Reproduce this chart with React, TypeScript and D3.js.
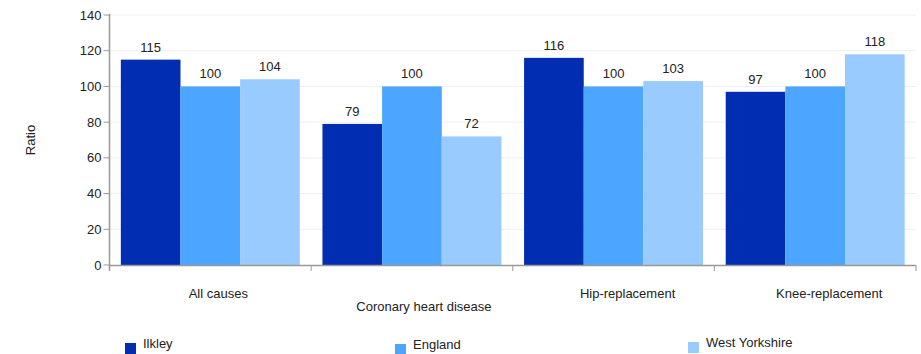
import React from "react";
import * as d3 from "d3";

const categories = ["All causes", "Coronary heart disease", "Hip-replacement", "Knee-replacement"];
const seriesNames = ["Ilkley", "England", "West Yorkshire"];
const ilkley = [115, 79, 116, 97];
const england = [100, 100, 100, 100];
const westYorkshire = [104, 72, 103, 118];
const yTicks = [0, 20, 40, 60, 80, 100, 120, 140];
const colors = ["#002db2", "#4ca6ff", "#99cbff"];

const W = 921, H = 354;
const left = 109.5, right = 916, top = 15, bottom = 265;

export default function App() {
  const series = [ilkley, england, westYorkshire];
  const x = d3.scaleBand().domain(categories).range([left, right]).paddingInner(0).paddingOuter(0);
  const x1 = d3.scaleBand().domain(seriesNames).range([0, x.bandwidth()]).paddingOuter(0.19).paddingInner(0);
  const y = d3.scaleLinear().domain([0, 140]).range([bottom, top]);
  const font = "Liberation Sans, Arial, sans-serif";
  const labelDy = [0, 13, 0, 0];
  const labelDx = [8, 12, 14, 14];
  const legendX = [125, 395, 688];
  const legendY = [343, 344, 342];
  return (
    <svg width={W} height={H} style={{ position: "absolute", left: 0, top: 0 }} fontFamily={font}>
      {yTicks.map((t) => (
        <g key={t}>
          {t > 0 && <line x1={left} x2={right} y1={y(t)} y2={y(t)} stroke="#eeeeee" strokeWidth={1} />}
          <line x1={left - 6} x2={left} y1={y(t)} y2={y(t)} stroke="#999" strokeWidth={1} />
          <text x={left - 8} y={y(t)} dy="0.35em" textAnchor="end" fontSize={13} fill="#222">{t}</text>
        </g>
      ))}
      {categories.map((c, i) => (
        <g key={c}>
          {series.map((s, j) => (
            <g key={j}>
              <rect x={(x(c) as number) + (x1(seriesNames[j]) as number)} y={y(s[i])} width={x1.bandwidth()} height={bottom - y(s[i])} fill={colors[j]} />
              <text x={(x(c) as number) + (x1(seriesNames[j]) as number) + x1.bandwidth() / 2} y={y(s[i]) - 8} textAnchor="middle" fontSize={13} fill="#222">{s[i]}</text>
            </g>
          ))}
          <text x={(x(c) as number) + x.bandwidth() / 2 + labelDx[i]} y={298 + labelDy[i]} textAnchor="middle" fontSize={13} fill="#222">{c}</text>
        </g>
      ))}
      <line x1={left} x2={left} y1={top - 1} y2={bottom + 6} stroke="#999" strokeWidth={1.5} />
      <line x1={left} x2={right} y1={bottom + 0.5} y2={bottom + 0.5} stroke="#999" strokeWidth={1.5} />
      {[...categories.map((c) => x(c) as number), right].map((v, i) => (
        <line key={i} x1={v} x2={v} y1={bottom} y2={bottom + 6} stroke="#999" strokeWidth={1} />
      ))}
      <text transform={`translate(35,${(top + bottom) / 2}) rotate(-90)`} textAnchor="middle" fontSize={13} fill="#222">Ratio</text>
      {seriesNames.map((n, j) => (
        <g key={n}>
          <rect x={legendX[j]} y={legendY[j]} width={11} height={11} fill={colors[j]} />
          <text x={legendX[j] + 18} y={legendY[j] + 5} fontSize={13} fill="#222">{n}</text>
        </g>
      ))}
    </svg>
  );
}
